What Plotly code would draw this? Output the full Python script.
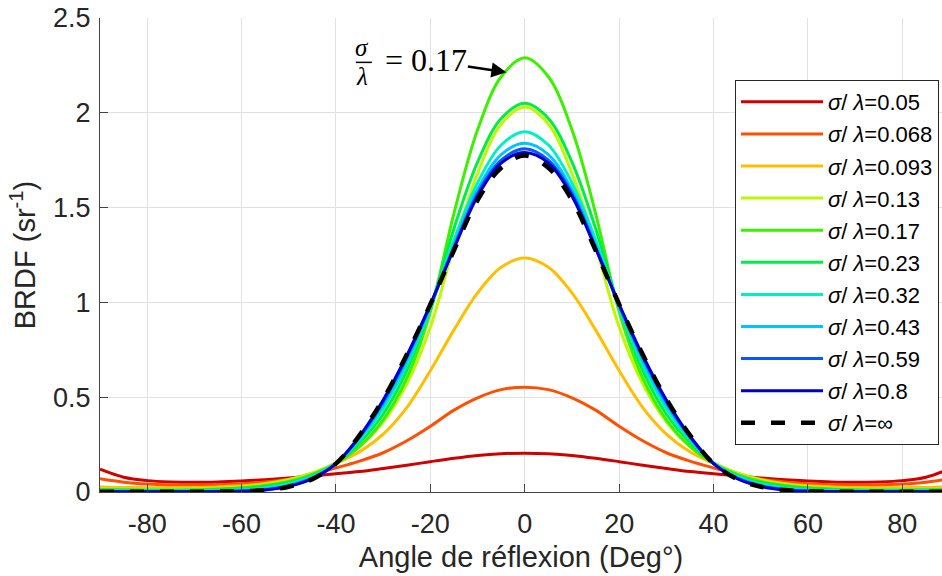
import plotly.graph_objects as go

ANGLES = [-90, -85, -80, -75, -70, -65, -60, -55, -50, -45, -40, -35, -30, -25, -20, -15, -10, -5, 0,
          5, 10, 15, 20, 25, 30, 35, 40, 45, 50, 55, 60, 65, 70, 75, 80, 85, 90]

S005 = [0.120, 0.078, 0.060, 0.053, 0.051, 0.053, 0.058, 0.065, 0.074, 0.085, 0.096, 0.108, 0.124, 0.141, 0.160, 0.178, 0.193, 0.202, 0.205,
        0.202, 0.193, 0.178, 0.160, 0.141, 0.124, 0.108, 0.096, 0.085, 0.074, 0.065, 0.058, 0.053, 0.051, 0.053, 0.060, 0.078, 0.122]
S0068 = [0.070, 0.052, 0.042, 0.037, 0.036, 0.038, 0.043, 0.053, 0.068, 0.094, 0.127, 0.163, 0.207, 0.270, 0.347, 0.432, 0.497, 0.540, 0.553,
         0.540, 0.497, 0.432, 0.347, 0.270, 0.207, 0.163, 0.127, 0.094, 0.068, 0.053, 0.043, 0.038, 0.036, 0.037, 0.042, 0.052, 0.070]
S0093 = [0.027, 0.024, 0.023, 0.023, 0.024, 0.027, 0.033, 0.045, 0.066, 0.100, 0.150, 0.212, 0.305, 0.445, 0.640, 0.855, 1.050, 1.185, 1.234,
         1.185, 1.050, 0.855, 0.640, 0.445, 0.305, 0.212, 0.150, 0.100, 0.066, 0.045, 0.033, 0.027, 0.024, 0.023, 0.023, 0.024, 0.027]
S013 = [0.017, 0.015, 0.014, 0.014, 0.016, 0.020, 0.027, 0.040, 0.062, 0.100, 0.155, 0.240, 0.370, 0.570, 0.870, 1.300, 1.680, 1.940, 2.030,
        1.940, 1.680, 1.300, 0.870, 0.570, 0.370, 0.240, 0.155, 0.100, 0.062, 0.040, 0.027, 0.020, 0.016, 0.014, 0.014, 0.015, 0.017]
S017 = [0.013, 0.012, 0.011, 0.011, 0.012, 0.016, 0.022, 0.034, 0.055, 0.093, 0.150, 0.240, 0.380, 0.600, 0.950, 1.470, 1.910, 2.190, 2.290,
        2.190, 1.910, 1.470, 0.950, 0.600, 0.380, 0.240, 0.150, 0.093, 0.055, 0.034, 0.022, 0.016, 0.012, 0.011, 0.011, 0.012, 0.013]
S023 = [0.010, 0.009, 0.008, 0.008, 0.009, 0.012, 0.018, 0.030, 0.050, 0.088, 0.152, 0.260, 0.410, 0.640, 0.970, 1.390, 1.740, 1.970, 2.050,
        1.970, 1.740, 1.390, 0.970, 0.640, 0.410, 0.260, 0.152, 0.088, 0.050, 0.030, 0.018, 0.012, 0.009, 0.008, 0.008, 0.009, 0.010]
S032 = [0.006, 0.005, 0.004, 0.004, 0.005, 0.007, 0.011, 0.021, 0.042, 0.082, 0.152, 0.275, 0.440, 0.670, 0.970, 1.330, 1.630, 1.830, 1.900,
        1.830, 1.630, 1.330, 0.970, 0.670, 0.440, 0.275, 0.152, 0.082, 0.042, 0.021, 0.011, 0.007, 0.005, 0.004, 0.004, 0.005, 0.006]
S043 = [0.003, 0.003, 0.003, 0.003, 0.003, 0.004, 0.007, 0.016, 0.036, 0.077, 0.151, 0.285, 0.460, 0.690, 0.980, 1.305, 1.595, 1.780, 1.840,
        1.780, 1.595, 1.305, 0.980, 0.690, 0.460, 0.285, 0.151, 0.077, 0.036, 0.016, 0.007, 0.004, 0.003, 0.003, 0.003, 0.003, 0.003]
S059 = [0.002, 0.002, 0.002, 0.002, 0.002, 0.002, 0.005, 0.012, 0.032, 0.073, 0.150, 0.290, 0.475, 0.710, 0.985, 1.290, 1.575, 1.750, 1.810,
        1.750, 1.575, 1.290, 0.985, 0.710, 0.475, 0.290, 0.150, 0.073, 0.032, 0.012, 0.005, 0.002, 0.002, 0.002, 0.002, 0.002, 0.002]
S08 = [0.001, 0.001, 0.001, 0.001, 0.001, 0.002, 0.004, 0.011, 0.030, 0.071, 0.150, 0.295, 0.485, 0.720, 0.990, 1.285, 1.560, 1.735, 1.790,
       1.735, 1.560, 1.285, 0.990, 0.720, 0.485, 0.295, 0.150, 0.071, 0.030, 0.011, 0.004, 0.002, 0.001, 0.001, 0.001, 0.001, 0.001]
SINF = [0.001, 0.001, 0.001, 0.001, 0.001, 0.002, 0.004, 0.010, 0.028, 0.068, 0.150, 0.300, 0.490, 0.725, 0.990, 1.275, 1.540, 1.710, 1.775,
        1.710, 1.540, 1.275, 0.990, 0.725, 0.490, 0.300, 0.150, 0.068, 0.028, 0.010, 0.004, 0.002, 0.001, 0.001, 0.001, 0.001, 0.001]

LABELS = ["0.05", "0.068", "0.093", "0.13", "0.17", "0.23", "0.32", "0.43", "0.59", "0.8", "∞"]
SERIES = [S005, S0068, S0093, S013, S017, S023, S032, S043, S059, S08, SINF]
COLORS = ["#d00000", "#ff4f00", "#ffbf00", "#bff700", "#3cf000", "#00ee44", "#00f0c0",
          "#00c4ff", "#0a55ff", "#0000cc", "#000000"]

Y_TICKS = [0, 0.5, 1, 1.5, 2, 2.5]
Y_TICKTEXT = ["0", "0.5", "1", "1.5", "2", "2.5"]
X_TICKS = [-80, -60, -40, -20, 0, 20, 40, 60, 80]
X_TICKTEXT = ["-80", "-60", "-40", "-20", "0", "20", "40", "60", "80"]

FONT = "Liberation Sans, Arial, Helvetica, sans-serif"
SERIF = "Liberation Serif, DejaVu Serif, serif"

fig = go.Figure()
for i, (lab, ys, col) in enumerate(zip(LABELS, SERIES, COLORS)):
    is_inf = lab == "∞"
    fig.add_trace(go.Scatter(
        x=ANGLES, y=ys, mode="lines",
        name="<i>σ</i>/ <i>λ</i>=" + lab,
        legendgroup="g%d" % i,
        line=dict(color=col, width=4.5 if is_inf else 3,
                  dash="14px,16px" if is_inf else "solid", shape="spline", smoothing=1.0),
    ))

fig.update_layout(
    width=942, height=576,
    margin=dict(l=100, r=0, t=18, b=84, autoexpand=False),
    plot_bgcolor="white", paper_bgcolor="white",
    font=dict(family=FONT, color="#262626", size=27),
    showlegend=True,
    legend=dict(
        x=(735 - 100) / 842, y=(492 - 80) / 474, xanchor="left", yanchor="top",
        bgcolor="white", bordercolor="#262626", borderwidth=1,
        font=dict(family=FONT, size=22, color="#000000"),
        itemwidth=82, tracegroupgap=0.5,
    ),
    xaxis=dict(
        range=[-90, 88.4], tickvals=X_TICKS, ticktext=X_TICKTEXT, showgrid=True,
        gridcolor="#e1e1e1", gridwidth=1, automargin=False, ticklabeloverflow="allow",
        zeroline=False, showline=True, linecolor="#444444", linewidth=1,
        ticks="inside", ticklen=8, tickcolor="#444444", ticklabelstandoff=8,
        tickfont=dict(size=27, color="#262626"),
        title=dict(text="Angle de réflexion (Deg°)", font=dict(size=29, color="#262626"), standoff=8),
    ),
    yaxis=dict(
        range=[0, 2.5], tickvals=Y_TICKS, ticktext=Y_TICKTEXT, showgrid=True, gridcolor="#e1e1e1",
        gridwidth=1, zeroline=False, showline=True, linecolor="#444444", linewidth=1,
        automargin=False, ticklabeloverflow="allow",
        ticks="inside", ticklen=8, tickcolor="#444444", ticklabelstandoff=3,
        tickfont=dict(size=27, color="#262626"),
        title=dict(text="BRDF (sr<sup>-1</sup>)", font=dict(size=29, color="#262626"), standoff=8),
    ),
)

# sigma / lambda = 0.17 label with arrow
BAR_Y = 2.266
fig.add_annotation(x=-34.4, y=BAR_Y, xref="x", yref="y", text="<i>σ</i>", showarrow=False,
                   yanchor="bottom", borderpad=0, font=dict(family=SERIF, size=25, color="black"))
fig.add_annotation(x=-34.4, y=BAR_Y, xref="x", yref="y", text="<i>λ</i>", showarrow=False,
                   yanchor="top", borderpad=0, font=dict(family=SERIF, size=25, color="black"))
fig.add_shape(type="line", xref="x", yref="y", x0=-35.8, x1=-32.4, y0=BAR_Y, y1=BAR_Y,
              line=dict(color="black", width=1.5))
fig.add_annotation(x=-3.9, y=2.214, xref="x", yref="y", text="= 0.17", showarrow=True,
                   ax=-80, ay=-12, arrowhead=2, arrowsize=1.2, arrowwidth=2.5, arrowcolor="black",
                   standoff=0, borderpad=0,
                   font=dict(family=SERIF, size=32, color="black"))

fig.write_html("out.html", config={"displayModeBar": False},
               post_script="document.body.style.margin='0px';")
